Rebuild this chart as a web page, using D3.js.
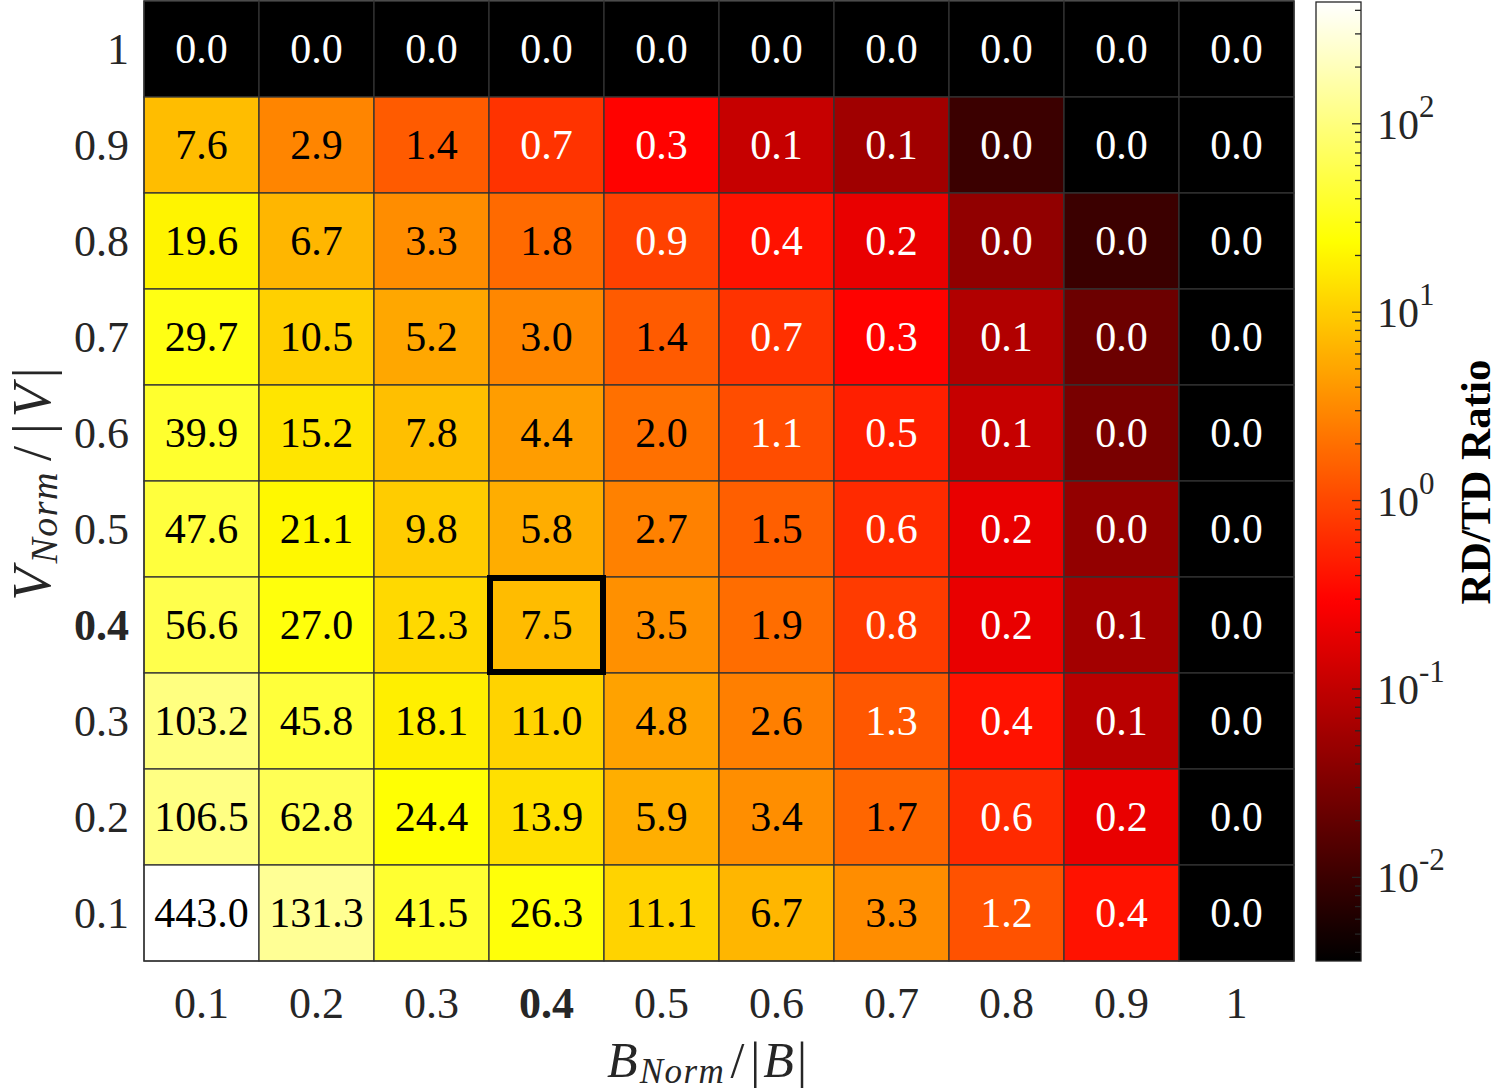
<!DOCTYPE html>
<html><head><meta charset="utf-8">
<script src="https://cdn.jsdelivr.net/npm/d3@7"></script>
<style>
html,body{margin:0;padding:0;background:#fff;}
svg{display:block;font-family:"Liberation Serif","Times New Roman",serif;}
</style></head>
<body>
<svg id="chart" width="1500" height="1092"></svg>
<script>
// Columns: B_Norm/|B|
const bLabels = ["0.1","0.2","0.3","0.4","0.5","0.6","0.7","0.8","0.9","1"];
// Rows (top to bottom): V_Norm/|V|
const vLabels = ["1","0.9","0.8","0.7","0.6","0.5","0.4","0.3","0.2","0.1"];
// RD/TD ratio, one array per row (top to bottom)
const rowV10 = [0,0,0,0,0,0,0,0,0,0];
const rowV09 = [7.6,2.9,1.4,0.7,0.3,0.11,0.057,0.010,0,0];
const rowV08 = [19.6,6.7,3.3,1.8,0.9,0.4,0.2,0.044,0.010,0];
const rowV07 = [29.7,10.5,5.2,3.0,1.4,0.7,0.3,0.076,0.023,0];
const rowV06 = [39.9,15.2,7.8,4.4,2.0,1.1,0.5,0.11,0.029,0];
const rowV05 = [47.6,21.1,9.8,5.8,2.7,1.5,0.6,0.2,0.045,0];
const rowV04 = [56.6,27.0,12.3,7.5,3.5,1.9,0.8,0.2,0.06,0];
const rowV03 = [103.2,45.8,18.1,11.0,4.8,2.6,1.3,0.4,0.087,0];
const rowV02 = [106.5,62.8,24.4,13.9,5.9,3.4,1.7,0.6,0.2,0];
const rowV01 = [443.0,131.3,41.5,26.3,11.1,6.7,3.3,1.2,0.4,0];
const rows = [rowV10,rowV09,rowV08,rowV07,rowV06,rowV05,rowV04,rowV03,rowV02,rowV01];
const highlightB = "0.4", highlightV = "0.4";
const colorMin = 0.0036, colorMax = 443;
const cbTickValues = [0.01,0.1,1,10,100];

const svg = d3.select("#chart");
const plot = {x0:144, x1:1294, y0:1, y1:961};
const x = d3.scaleBand().domain(bLabels).range([plot.x0, plot.x1]).padding(0);
const y = d3.scaleBand().domain(vLabels).range([plot.y0, plot.y1]).padding(0);
const logS = d3.scaleLog().domain([colorMin, colorMax]).range([0,1]).clamp(true);
function hot(t){
  const r = Math.min(1, Math.max(0, t/0.375));
  const g = Math.min(1, Math.max(0, (t-0.375)/0.375));
  const b = Math.min(1, Math.max(0, (t-0.75)/0.25));
  return d3.rgb(r*255, g*255, b*255);
}
function color(v){ return v<=0 ? d3.rgb(0,0,0) : hot(logS(v)); }

const cells = [];
rows.forEach((row,i)=>row.forEach((v,j)=>cells.push({v, b:bLabels[j], vl:vLabels[i]})));

const g = svg.append("g");
g.selectAll("rect.cell").data(cells).join("rect")
  .attr("class","cell")
  .attr("x",d=>x(d.b)).attr("y",d=>y(d.vl))
  .attr("width",x.bandwidth()).attr("height",y.bandwidth())
  .attr("fill",d=>color(d.v))
  .attr("stroke","#333").attr("stroke-width",1.3);

g.selectAll("text.val").data(cells).join("text")
  .attr("class","val")
  .attr("x",d=>x(d.b)+x.bandwidth()/2)
  .attr("y",d=>y(d.vl)+y.bandwidth()/2+14)
  .attr("text-anchor","middle")
  .attr("font-size",42)
  .attr("fill",d=>d.v>=1.35?"#000":"#fff")
  .text(d=>d.v.toFixed(1));

// outer border
g.append("rect").attr("x",plot.x0).attr("y",plot.y0)
  .attr("width",plot.x1-plot.x0).attr("height",plot.y1-plot.y0)
  .attr("fill","none").attr("stroke","#333").attr("stroke-width",1.3);

// highlight
g.append("rect")
  .attr("x",x(highlightB)+1).attr("y",y(highlightV)+1)
  .attr("width",x.bandwidth()-2).attr("height",y.bandwidth()-2)
  .attr("fill","none").attr("stroke","#000").attr("stroke-width",6);

// axes (labels only)
const xAxis = svg.append("g").attr("transform",`translate(0,${plot.y1})`)
  .call(d3.axisBottom(x).tickSize(0).tickPadding(0));
xAxis.select(".domain").remove();
xAxis.selectAll("text").attr("font-size",44).attr("font-family","Liberation Serif")
  .attr("fill","#262626").attr("dy",null).attr("y",57)
  .attr("font-weight",d=>d===highlightB?"bold":"normal");

const yAxis = svg.append("g").attr("transform",`translate(${plot.x0},0)`)
  .call(d3.axisLeft(y).tickSize(0).tickPadding(0));
yAxis.select(".domain").remove();
yAxis.selectAll("text").attr("font-size",44).attr("font-family","Liberation Serif")
  .attr("fill","#262626").attr("x",-15).attr("dy","0.33em")
  .attr("font-weight",d=>d===highlightV?"bold":"normal");

// axis titles (math-style)
function mathLabel(sel, main, sub, base, subSize, subDy, gap){
  sel.append("tspan").attr("font-style","italic").text(main);
  sel.append("tspan").attr("font-style","italic").attr("font-size",subSize)
    .attr("letter-spacing",1.5).attr("dx",gap*0.4).attr("dy",subDy).text(sub);
  sel.append("tspan").attr("dx",gap).attr("dy",-subDy).text("/");
  sel.append("tspan").attr("dx",gap*1.2).text("|");
  sel.append("tspan").attr("font-style","italic").attr("dx",gap*0.6).text(base);
  sel.append("tspan").attr("dx",gap*0.6).text("|");
}
const xt = svg.append("text").attr("x",707).attr("y",1077).attr("text-anchor","middle")
  .attr("font-size",50).attr("fill","#262626");
mathLabel(xt,"B","Norm","B",35,6,5);
const yt = svg.append("text").attr("transform","translate(50,484) rotate(-90)")
  .attr("text-anchor","middle").attr("font-size",54).attr("fill","#262626");
mathLabel(yt,"V","Norm","V",38,7,10);

// colorbar
const cb = {x:1316, w:45, y0:2, y1:961};
const cbY = d3.scaleLog().domain([colorMin,colorMax]).range([cb.y1, cb.y0]);
const defs = svg.append("defs");
const grad = defs.append("linearGradient").attr("id","cbgrad")
  .attr("x1",0).attr("y1",1).attr("x2",0).attr("y2",0);
d3.range(0,1.0001,0.01).forEach(t=>{
  grad.append("stop").attr("offset",t).attr("stop-color",hot(t));
});
svg.append("rect").attr("x",cb.x).attr("y",cb.y0).attr("width",cb.w).attr("height",cb.y1-cb.y0)
  .attr("fill","url(#cbgrad)");
const allTicks = cbY.ticks().filter(v=>v>=colorMin && v<=colorMax);
svg.append("g").selectAll("line").data(allTicks).join("line")
  .attr("x1",cb.x+cb.w).attr("x2",d=>cb.x+cb.w-(cbTickValues.includes(d)?9:6))
  .attr("y1",d=>cbY(d)).attr("y2",d=>cbY(d))
  .attr("stroke","#262626").attr("stroke-width",1.3);
svg.append("rect").attr("x",cb.x).attr("y",cb.y0).attr("width",cb.w).attr("height",cb.y1-cb.y0)
  .attr("fill","none").attr("stroke","#262626").attr("stroke-width",1.3);
const cbl = svg.append("g").selectAll("text").data(cbTickValues).join("text")
  .attr("x",cb.x+cb.w+16).attr("y",d=>cbY(d)+15)
  .attr("font-size",42).attr("fill","#262626");
cbl.append("tspan").text("10");
cbl.append("tspan").attr("font-size",31).attr("dy",-22).text(d=>Math.round(Math.log10(d)));
svg.append("text").attr("transform","translate(1490,482) rotate(-90)")
  .attr("text-anchor","middle").attr("font-size",43).attr("font-weight","bold")
  .attr("fill","#000").text("RD/TD Ratio");
</script>
</body></html>
